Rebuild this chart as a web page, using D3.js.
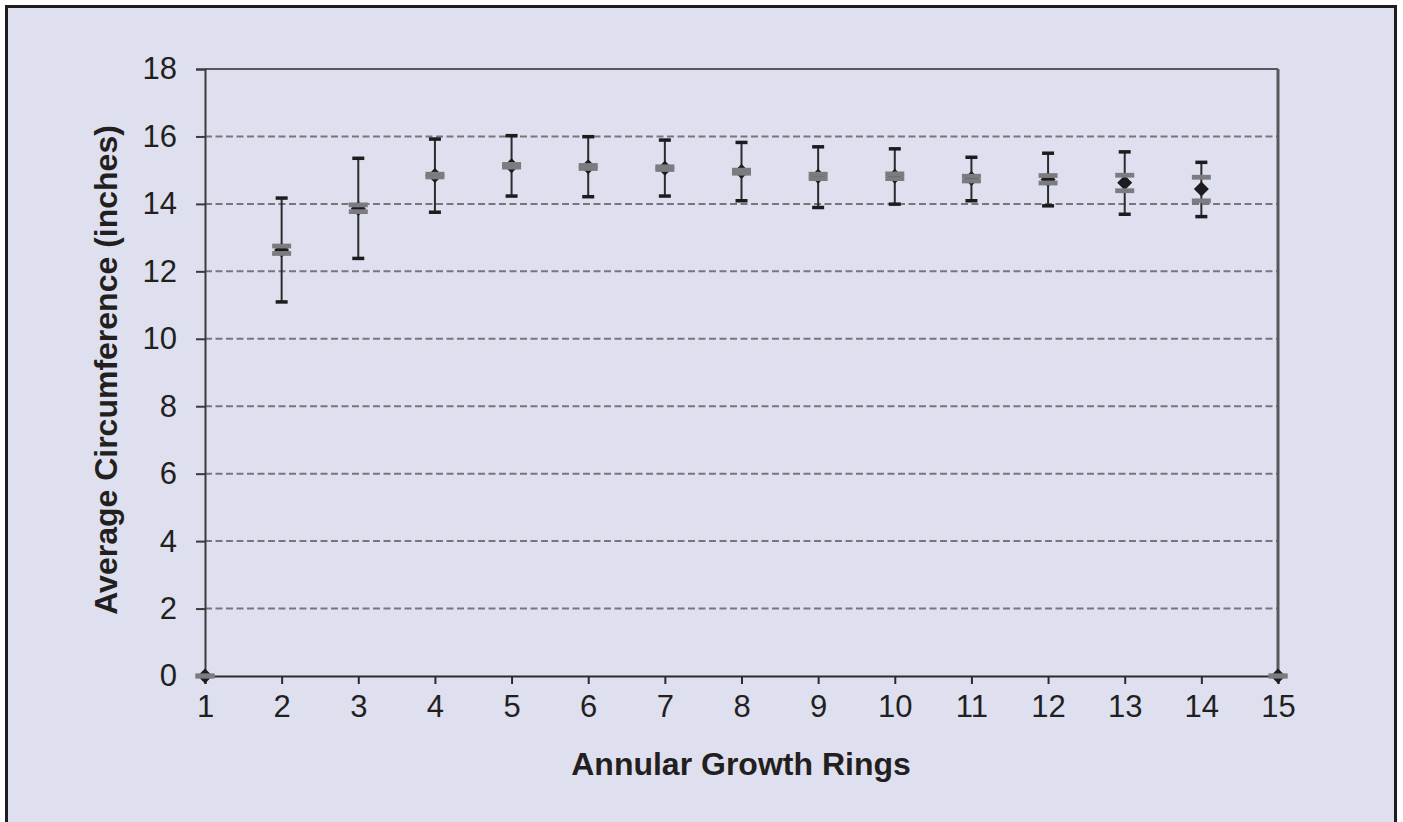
<!DOCTYPE html>
<html>
<head>
<meta charset="utf-8">
<script src="https://cdn.jsdelivr.net/npm/d3@7"></script>
<style>
  html, body { margin: 0; padding: 0; background: #ffffff; }
  svg { display: block; }
  text { font-family: "Liberation Sans", Arial, sans-serif; fill: #231f20; }
</style>
</head>
<body>
<svg id="chart" width="1403" height="822"></svg>
<script>
// Annular growth rings vs. average circumference
const rings     = [1, 2, 3, 4, 5, 6, 7, 8, 9, 10, 11, 12, 13, 14, 15];
const meanCirc  = [0, 12.63, 13.86, 14.84, 15.13, 15.10, 15.06, 14.96, 14.82, 14.82, 14.75, 14.72, 14.63, 14.44, 0];
const errHigh   = [0, 14.18, 15.36, 15.93, 16.03, 16.00, 15.90, 15.83, 15.70, 15.64, 15.39, 15.51, 15.55, 15.24, 0];
const errLow    = [0, 11.10, 12.39, 13.76, 14.24, 14.22, 14.24, 14.10, 13.90, 14.00, 14.10, 13.95, 13.70, 13.63, 0];
const upperMark = [0, 12.75, 13.97, 14.88, 15.17, 15.14, 15.10, 15.00, 14.88, 14.89, 14.82, 14.84, 14.85, 14.79, 0];
const lowerMark = [0, 12.53, 13.77, 14.80, 15.09, 15.05, 15.02, 14.91, 14.75, 14.75, 14.68, 14.62, 14.39, 14.09, 0];
const yTicks    = [0, 2, 4, 6, 8, 10, 12, 14, 16, 18];
const xTitle    = "Annular Growth Rings";
const yTitle    = "Average Circumference (inches)";

const svg = d3.select("#chart");

// framed panel
svg.append("rect")
  .attr("x", 6.5).attr("y", 6.5)
  .attr("width", 1389).attr("height", 830)
  .attr("fill", "#dfe0ef")
  .attr("stroke", "#1e1e1e").attr("stroke-width", 3);

const plot = { left: 205, right: 1278, top: 69, bottom: 676 };

const x = d3.scaleLinear().domain([1, 15]).range([plot.left, plot.right]);
const y = d3.scaleLinear().domain([0, 18]).range([plot.bottom, plot.top]);

// dashed gridlines
svg.append("g")
  .selectAll("line")
  .data(yTicks.filter(t => t > 0 && t < 18))
  .join("line")
  .attr("x1", plot.left).attr("x2", plot.right)
  .attr("y1", d => y(d)).attr("y2", d => y(d))
  .attr("stroke", "#76767c").attr("stroke-width", 2)
  .attr("stroke-dasharray", "7,3.5");

// top and right frame of the plot area
svg.append("line")
  .attr("x1", plot.left).attr("x2", plot.right)
  .attr("y1", plot.top).attr("y2", plot.top)
  .attr("stroke", "#58585c").attr("stroke-width", 2);
svg.append("line")
  .attr("x1", plot.right).attr("x2", plot.right)
  .attr("y1", plot.top).attr("y2", plot.bottom)
  .attr("stroke", "#58585c").attr("stroke-width", 3);

// y axis
const yAxis = svg.append("g")
  .attr("transform", `translate(${plot.left},0)`)
  .call(d3.axisLeft(y).tickValues(yTicks).tickSize(9).tickPadding(19).tickFormat(d3.format("d")));
yAxis.select(".domain").attr("stroke", "#3a3a3c").attr("stroke-width", 2);
yAxis.selectAll(".tick line").attr("stroke", "#3a3a3c").attr("stroke-width", 2);
yAxis.selectAll("text")
  .attr("font-size", 31).attr("fill", "#231f20")
  .attr("font-family", "'Liberation Sans', Arial, sans-serif");

// x axis
const xAxis = svg.append("g")
  .attr("transform", `translate(0,${plot.bottom})`)
  .call(d3.axisBottom(x).tickValues(rings).tickSize(8).tickPadding(11).tickFormat(d3.format("d")));
xAxis.select(".domain").attr("stroke", "#2a2a2c").attr("stroke-width", 2);
xAxis.selectAll(".tick line").attr("stroke", "#2a2a2c").attr("stroke-width", 2);
xAxis.selectAll("text")
  .attr("font-size", 31).attr("fill", "#231f20")
  .attr("font-family", "'Liberation Sans', Arial, sans-serif");

// axis titles
svg.append("text")
  .attr("x", 741).attr("y", 775)
  .attr("text-anchor", "middle")
  .attr("font-size", 32).attr("font-weight", "bold")
  .text(xTitle);
svg.append("text")
  .attr("transform", `translate(117,370) rotate(-90)`)
  .attr("text-anchor", "middle")
  .attr("font-size", 32).attr("font-weight", "bold")
  .text(yTitle);

const data = rings.map((r, i) => ({
  ring: r, mean: meanCirc[i], hi: errHigh[i], lo: errLow[i],
  up: upperMark[i], dn: lowerMark[i]
}));
const withBars = data.filter(d => d.hi !== d.lo);

// error bars
const eb = svg.append("g");
eb.selectAll("line.stem").data(withBars).join("line")
  .attr("class", "stem")
  .attr("x1", d => x(d.ring)).attr("x2", d => x(d.ring))
  .attr("y1", d => y(d.hi)).attr("y2", d => y(d.lo))
  .attr("stroke", "#2b2b2d").attr("stroke-width", 2);
eb.selectAll("rect.caphi").data(withBars).join("rect")
  .attr("class", "caphi")
  .attr("x", d => x(d.ring) - 6).attr("y", d => y(d.hi) - 1.5)
  .attr("width", 12).attr("height", 3.5).attr("fill", "#1c1c1e");
eb.selectAll("rect.caplo").data(withBars).join("rect")
  .attr("class", "caplo")
  .attr("x", d => x(d.ring) - 6).attr("y", d => y(d.lo) - 1.5)
  .attr("width", 12).attr("height", 3.5).attr("fill", "#1c1c1e");

// mean markers (diamonds)
svg.append("g").selectAll("path").data(data).join("path")
  .attr("transform", d => `translate(${x(d.ring)},${y(d.mean)})`)
  .attr("d", "M0,-7.5L7.5,0L0,7.5L-7.5,0Z")
  .attr("fill", "#1c1c1e");

// grey dash markers drawn on top
const dashes = svg.append("g");
dashes.selectAll("rect.up").data(data).join("rect")
  .attr("class", "up")
  .attr("x", d => x(d.ring) - 9.5).attr("y", d => y(d.up) - 2.4)
  .attr("width", 19).attr("height", 4.8)
  .attr("fill", "#7c7c80");
dashes.selectAll("rect.dn").data(data).join("rect")
  .attr("class", "dn")
  .attr("x", d => x(d.ring) - 9.5).attr("y", d => y(d.dn) - 2.4)
  .attr("width", 19).attr("height", 4.8)
  .attr("fill", "#7c7c80");
</script>
</body>
</html>
